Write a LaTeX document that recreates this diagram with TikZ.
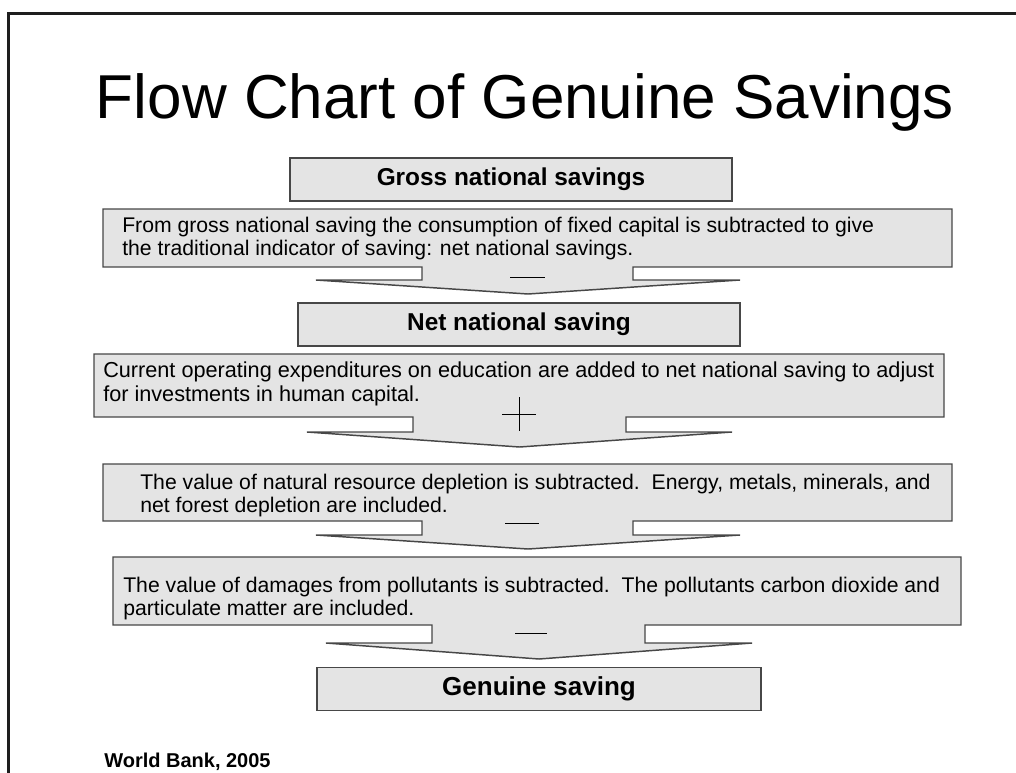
\documentclass[tikz,border=0pt]{standalone}
\usepackage{fontspec}
\setmainfont{Liberation Sans}
\definecolor{boxfill}{HTML}{E4E4E4}
\definecolor{boxline}{HTML}{474747}
\definecolor{frameline}{HTML}{1E1E1E}
\begin{document}
\begin{tikzpicture}[x=0.75pt,y=-0.75pt,
  panel/.style={draw=boxline, fill=boxfill, line width=1.1pt, line join=miter},
  labelbox/.style={panel, minimum width=#1, minimum height=32.25pt, inner sep=0pt},
  labeltext/.style={font=\bfseries\fontsize{#1}{20}\selectfont},
  body/.style={anchor=north west, inner sep=0pt, align=left,
               font=\fontsize{15.9}{17.4}\selectfont},
  sign/.style={draw=black, line width=0.7pt},
  frame/.style={draw=frameline, line width=1.6pt}]
\useasboundingbox (0,0) rectangle (1016,772);

% slide frame (top and left edges)
\draw[frame] (8.5,775) -- (8.5,13.5) -- (1020,13.5);

% title
\node[anchor=base, inner sep=0pt, font=\fontsize{46.5}{52}\selectfont] (title)
  at (525,118) {Flow Chart of Genuine Savings};

% step 1: gross -> net
\node[labelbox=331.5pt, labeltext=18.3] (gross) at (511,179.5) {Gross national savings};
\draw[panel] (103,209) -- (952,209) -- (952,267) -- (633,267) -- (633,280)
  -- (740,280) -- (528,294) -- (316,280) -- (422,280) -- (422,267)
  -- (103,267) -- cycle;
\node[body] (t1) at (122,216.7)
  {From gross national saving the consumption of fixed capital is subtracted to give\\
   the traditional indicator of saving: net national savings.};
\draw[sign] (510,277) -- (545,277);

% step 2: education expenditures added
\node[labelbox=331.5pt, labeltext=18.3] (net) at (519,324.5) {Net national saving};
\draw[panel] (94,354) -- (944,354) -- (944,417) -- (626,417) -- (626,432)
  -- (732,432) -- (519.5,447) -- (307,432) -- (413,432) -- (413,417)
  -- (94,417) -- cycle;
\node[body, font=\fontsize{16.25}{17.6}\selectfont] (t2) at (103,362)
  {Current operating expenditures on education are added to net national saving to adjust\\
   for investments in human capital.};
\draw[sign] (502,414) -- (536,414);
\draw[sign] (519,397) -- (519,431);

% step 3: resource depletion subtracted
\draw[panel] (103,464) -- (952,464) -- (952,521) -- (633,521) -- (633,535)
  -- (740,535) -- (528,549) -- (316,535) -- (422,535) -- (422,521)
  -- (103,521) -- cycle;
\node[body] (t3) at (140,473.7)
  {The value of natural resource depletion is subtracted.\ \ Energy, metals, minerals, and\\
   net forest depletion are included.};
\draw[sign] (505,523) -- (539,523);

% step 4: pollution damages subtracted
\draw[panel] (113,557) -- (961,557) -- (961,625) -- (645,625) -- (645,643)
  -- (752,643) -- (539,659) -- (326,643) -- (432,643) -- (432,625)
  -- (113,625) -- cycle;
\node[body] (t4) at (123,576.7)
  {The value of damages from pollutants is subtracted.\ \ The pollutants carbon dioxide and\\
   particulate matter are included.};
\draw[sign] (515,633) -- (547,633);

% result
\node[labelbox=333pt, labeltext=19.5] (genuine) at (539,689) {Genuine saving};

% source
\node[anchor=base west, inner sep=0pt, font=\bfseries\fontsize{15}{17}\selectfont] (source)
  at (104,767) {World Bank, 2005};
\end{tikzpicture}
\end{document}
